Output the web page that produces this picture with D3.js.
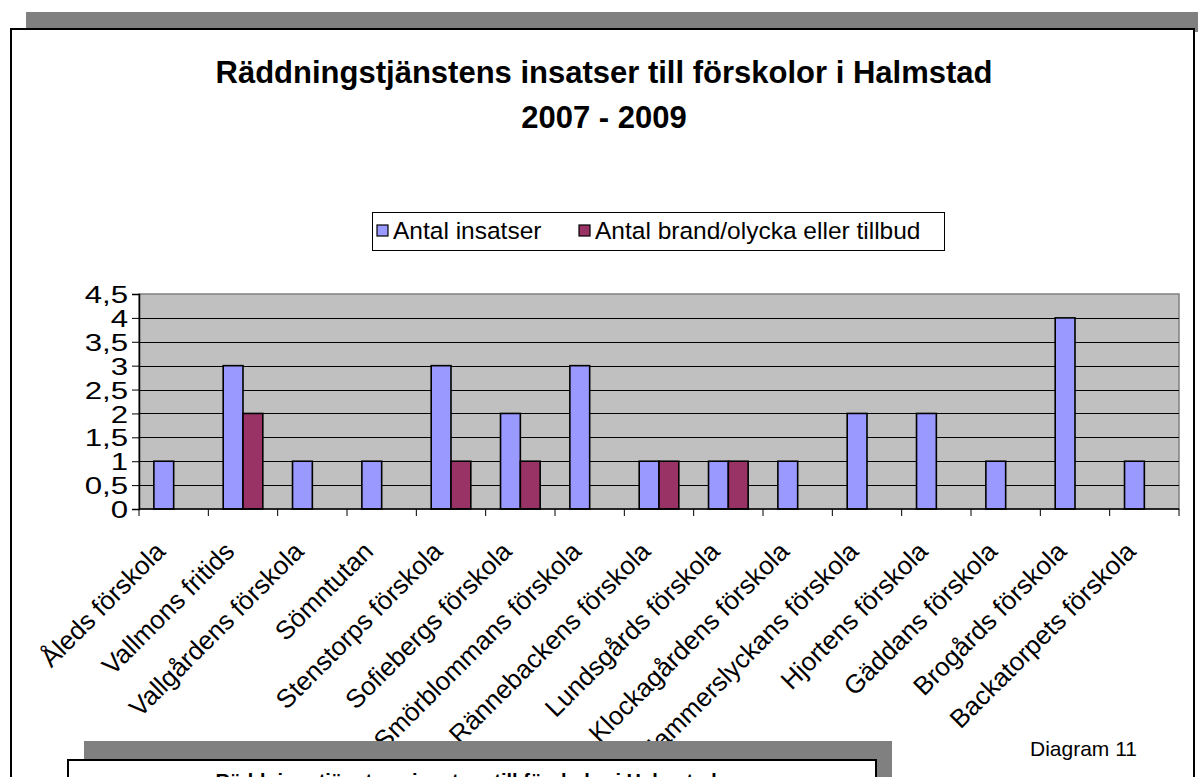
<!DOCTYPE html>
<html>
<head>
<meta charset="utf-8">
<script src="https://cdn.jsdelivr.net/npm/d3@7"></script>
<style>
	body { margin: 0; background: #fff; }
	text { font-family: Arial, 'Liberation Sans', sans-serif; }
</style>
</head>
<body>
<div id="graph"></div>
<script>

// chart data
const categories = ['Åleds förskola', 'Vallmons fritids', 'Vallgårdens förskola', 'Sömntutan',
		'Stenstorps förskola', 'Sofiebergs förskola', 'Smörblommans förskola', 'Rännebackens förskola',
		'Lundsgårds förskola', 'Klockagårdens förskola', 'Hammerslyckans förskola', 'Hjortens förskola',
		'Gäddans förskola', 'Brogårds förskola', 'Backatorpets förskola']
	, seriesNames = ['Antal insatser', 'Antal brand/olycka eller tillbud']
	, insatser = [1, 3, 1, 1, 3, 2, 3, 1, 1, 1, 2, 2, 1, 4, 1]
	, brand = [0, 2, 0, 0, 1, 1, 0, 1, 1, 0, 0, 0, 0, 0, 0]
	, yTicks = [0, 0.5, 1, 1.5, 2, 2.5, 3, 3.5, 4, 4.5]
	, titleLines = ['Räddningstjänstens insatser till förskolor i Halmstad', '2007 - 2009']

const width = 1198
	, height = 777
	, plot = { left: 139, right: 1179, top: 294, bottom: 509 }
	, colors = ['#9999ff', '#993366']

const svg = d3.select('#graph')
	.append('svg')
	  .attr('width', width)
	  .attr('height', height)

// outer frame with its shadow bar
svg.append('rect')
	.attr('x', 26).attr('y', 12)
	.attr('width', width - 26).attr('height', 20)
	.attr('fill', '#808080')

svg.append('rect')
	.attr('x', 11).attr('y', 29)
	.attr('width', 1183).attr('height', 800)
	.attr('fill', '#fff')
	.attr('stroke', '#000')
	.attr('stroke-width', 2)

// title
svg.append('g')
	.selectAll('text')
	.data(titleLines)
	.join('text')
	  .attr('x', 604)
	  .attr('y', (d, i) => 83 + i * 45)
	  .attr('text-anchor', 'middle')
	  .style('font-size', '31px')
	  .style('font-weight', 'bold')
	  .text(d => d)

// scales
const x = d3.scaleBand()
	.domain(categories)
	.range([plot.left, plot.right])
	.padding(0)

const x1 = d3.scaleBand()
	.domain(seriesNames)
	.range([0, x.bandwidth()])
	.paddingInner(0)
	.paddingOuter(0.75)

const y = d3.scaleLinear()
	.domain([0, 4.5])
	.range([plot.bottom, plot.top])

const fmt = d => String(d).replace('.', ',')

// plot area
svg.append('rect')
	.attr('x', plot.left).attr('y', plot.top)
	.attr('width', plot.right - plot.left).attr('height', plot.bottom - plot.top)
	.attr('fill', '#c0c0c0')
	.attr('stroke', '#808080')
	.attr('stroke-width', 1.5)

// gridlines
svg.append('g')
	.selectAll('line')
	.data(yTicks.filter(d => d > 0 && d < 4.5))
	.join('line')
	  .attr('x1', plot.left).attr('x2', plot.right)
	  .attr('y1', d => Math.round(y(d)) + 0.5)
	  .attr('y2', d => Math.round(y(d)) + 0.5)
	  .attr('stroke', '#000')
	  .attr('stroke-width', 1)

// bars
const rows = categories.map((c, i) => ({ key: c, values: [insatser[i], brand[i]] }))

svg.append('g')
	.selectAll('g')
	.data(rows)
	.join('g')
	  .attr('transform', d => 'translate(' + x(d.key) + ',0)')
	.selectAll('rect')
	.data(d => d.values.map((v, j) => ({ name: seriesNames[j], value: v, idx: j })).filter(e => e.value > 0))
	.join('rect')
	  .attr('x', d => x1(d.name))
	  .attr('y', d => y(d.value))
	  .attr('width', x1.bandwidth())
	  .attr('height', d => y(0) - y(d.value))
	  .attr('fill', d => colors[d.idx])
	  .attr('stroke', '#000')
	  .attr('stroke-width', 1.6)

// y axis
const yAxis = svg.append('g')
	.attr('transform', 'translate(' + plot.left + ',0)')
	.call(d3.axisLeft(y).tickValues(yTicks).tickFormat(fmt).tickSize(7).tickPadding(4))

yAxis.select('.domain').attr('stroke', '#000').attr('stroke-width', 1.5)
yAxis.selectAll('.tick line').attr('stroke', '#000')
yAxis.selectAll('.tick text')
	.style('font-size', '24px')
	.attr('fill', '#000')
	.attr('dy', '0.36em')
	// the source renders these digits wider than the font does
	.each(function () {
		d3.select(this)
			.attr('textLength', this.getComputedTextLength() * 1.3)
			.attr('lengthAdjust', 'spacingAndGlyphs')
	})

// x axis with ticks between categories
const xAxis = svg.append('g')
	.attr('transform', 'translate(0,' + plot.bottom + ')')

xAxis.append('line')
	.attr('x1', plot.left).attr('x2', plot.right)
	.attr('stroke', '#000')
	.attr('stroke-width', 1.5)

xAxis.selectAll('.sep')
	.data(categories.concat([null]))
	.join('line')
	  .attr('class', 'sep')
	  .attr('x1', d => d === null ? plot.right : x(d))
	  .attr('x2', d => d === null ? plot.right : x(d))
	  .attr('y1', 0).attr('y2', 7)
	  .attr('stroke', '#000')

xAxis.selectAll('.label')
	.data(categories)
	.join('text')
	  .attr('class', 'label')
	  .attr('transform', d => 'translate(' + (x(d) + x.bandwidth() / 2 - 7) + ',44) rotate(-45)')
	  .attr('text-anchor', 'end')
	  .style('font-size', '26px')
	  .text(d => d)

// legend
const legend = svg.append('g')
	, legendX = [377, 579]

legend.append('rect')
	.attr('x', 372.5).attr('y', 212.5)
	.attr('width', 572).attr('height', 38)
	.attr('fill', '#fff')
	.attr('stroke', '#000')

seriesNames.forEach(function (name, i) {
	legend.append('rect')
		.attr('x', legendX[i]).attr('y', 225)
		.attr('width', 11).attr('height', 11)
		.attr('fill', colors[i])
		.attr('stroke', '#000')
		.attr('stroke-width', 1.2)
	legend.append('text')
		.attr('x', legendX[i] + 16).attr('y', 239)
		.style('font-size', '24.5px')
		.text(name)
})

// caption
svg.append('text')
	.attr('x', 1137).attr('y', 756)
	.attr('text-anchor', 'end')
	.style('font-size', '21px')
	.text('Diagram 11')

// next figure peeking in at the bottom
svg.append('rect')
	.attr('x', 84).attr('y', 741)
	.attr('width', 808).attr('height', 60)
	.attr('fill', '#808080')

svg.append('rect')
	.attr('x', 68).attr('y', 760)
	.attr('width', 808).attr('height', 60)
	.attr('fill', '#fff')
	.attr('stroke', '#000')
	.attr('stroke-width', 2)

svg.append('text')
	.attr('x', 466).attr('y', 788)
	.attr('text-anchor', 'middle')
	.style('font-size', '20px')
	.style('font-weight', 'bold')
	.text(titleLines[0])

</script>
</body>
</html>
